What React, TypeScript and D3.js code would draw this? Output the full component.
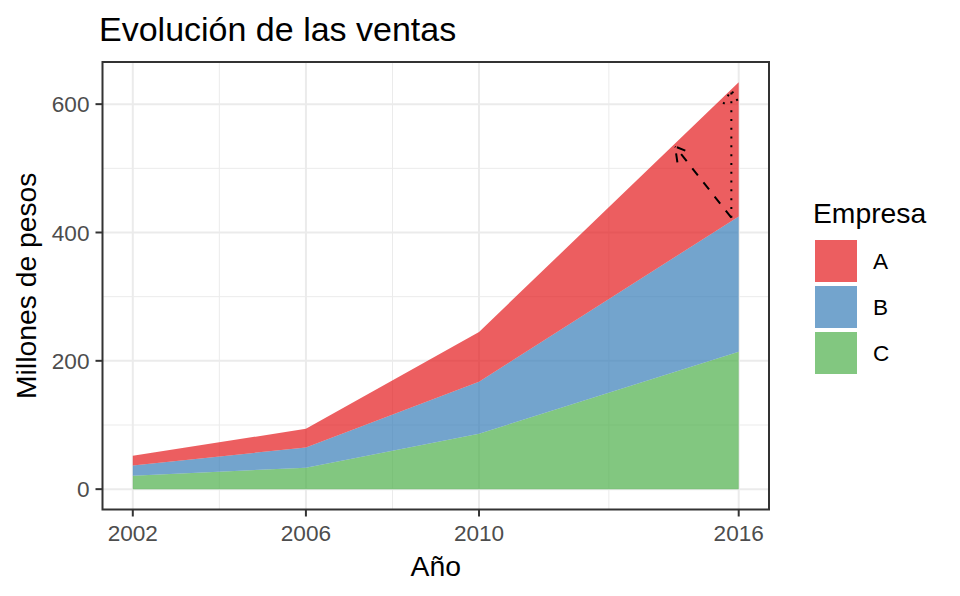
import React from "react";
import * as d3 from "d3";

const years = [2002, 2006, 2010, 2016];
const empresas = ["A", "B", "C"];
const ventasA = [15, 29, 77.5, 209];
const ventasB = [16, 31.5, 81, 211];
const ventasC = [21, 33.5, 86.5, 214];
const colores = ["#E41A1C", "#377EB8", "#4DAF4A"];
const yTicks = [0, 200, 400, 600];
const yMinor = [100, 300, 500];
const xTicks = [2002, 2006, 2010, 2016];
const xMinor = [2004, 2008, 2013];

// annotation segments (data coordinates): [x, y, xend, yend]
const flechaDiscontinua = [2015.83, 423, 2014.53, 534];
const flechaPunteada = [2015.83, 423, 2015.83, 622];

const W = 960;
const H = 596;
const P = { left: 102.5, right: 769, top: 62, bottom: 509.5 };

export default function App() {
  const table = years.map((yr, i) => ({ year: yr, A: ventasA[i], B: ventasB[i], C: ventasC[i] }));
  const stack = d3.stack<any>().keys(["C", "B", "A"]);
  const series = stack(table);

  const xMin = d3.min(years)!, xMax = d3.max(years)!;
  const xPad = (xMax - xMin) * 0.05;
  const x = d3.scaleLinear().domain([xMin - xPad, xMax + xPad]).range([P.left, P.right]);
  const yMaxV = d3.max(series[series.length - 1], (d) => d[1])!;
  const yPad = yMaxV * 0.05;
  const y = d3.scaleLinear().domain([-yPad, yMaxV + yPad]).range([P.bottom, P.top]);

  const area = d3
    .area<any>()
    .x((d) => x(d.data.year))
    .y0((d) => y(d[0]))
    .y1((d) => y(d[1]));

  const colorOf = (k: string) => colores[empresas.indexOf(k)];
  const font = "'Liberation Sans', Arial, sans-serif";

  const arrow = (seg: number[], dash: string, key: string) => {
    const x1 = x(seg[0]), y1 = y(seg[1]), x2 = x(seg[2]), y2 = y(seg[3]);
    const dx = x1 - x2, dy = y1 - y2;
    const len = Math.hypot(dx, dy);
    const ux = dx / len, uy = dy / len;
    const L = 16;
    const a = Math.PI / 6;
    const r1 = [ux * Math.cos(a) - uy * Math.sin(a), ux * Math.sin(a) + uy * Math.cos(a)];
    const r2 = [ux * Math.cos(-a) - uy * Math.sin(-a), ux * Math.sin(-a) + uy * Math.cos(-a)];
    const head = `M${x2 + r1[0] * L},${y2 + r1[1] * L}L${x2},${y2}L${x2 + r2[0] * L},${y2 + r2[1] * L}`;
    return (
      <g key={key} stroke="#000" strokeWidth={2} fill="none" strokeDasharray={dash}>
        <line x1={x1} y1={y1} x2={x2} y2={y2} />
        <path d={head} />
      </g>
    );
  };

  return (
    <div style={{ position: "absolute", left: 0, top: 0 }}>
      <svg width={W} height={H} style={{ display: "block", background: "#fff" }} fontFamily={font}>
        <rect x={0} y={0} width={W} height={H} fill="#fff" />
        {/* grid */}
        <g stroke="#EBEBEB" fill="none">
          {yMinor.map((v) => (
            <line key={"ym" + v} x1={P.left} x2={P.right} y1={y(v)} y2={y(v)} strokeWidth={1} />
          ))}
          {xMinor.map((v) => (
            <line key={"xm" + v} y1={P.top} y2={P.bottom} x1={x(v)} x2={x(v)} strokeWidth={1} />
          ))}
          {yTicks.map((v) => (
            <line key={"y" + v} x1={P.left} x2={P.right} y1={y(v)} y2={y(v)} strokeWidth={2} />
          ))}
          {xTicks.map((v) => (
            <line key={"x" + v} y1={P.top} y2={P.bottom} x1={x(v)} x2={x(v)} strokeWidth={2} />
          ))}
        </g>
        {/* areas */}
        {series.map((s) => (
          <path key={s.key} d={area(s as any)!} fill={colorOf(s.key)} fillOpacity={0.7} />
        ))}
        {/* annotations */}
        {arrow(flechaDiscontinua, "9 9", "dash")}
        {arrow(flechaPunteada, "2 6.8", "dot")}
        {/* panel border */}
        <rect
          x={P.left}
          y={P.top}
          width={P.right - P.left}
          height={P.bottom - P.top}
          fill="none"
          stroke="#333333"
          strokeWidth={2}
        />
        {/* y axis */}
        {yTicks.map((v) => (
          <g key={"yt" + v}>
            <line x1={P.left - 7} x2={P.left} y1={y(v)} y2={y(v)} stroke="#333333" strokeWidth={2} />
            <text x={P.left - 13} y={y(v)} dy="0.36em" textAnchor="end" fontSize={22.6} fill="#4D4D4D">
              {v}
            </text>
          </g>
        ))}
        {/* x axis */}
        {xTicks.map((v) => (
          <g key={"xt" + v}>
            <line x1={x(v)} x2={x(v)} y1={P.bottom} y2={P.bottom + 7} stroke="#333333" strokeWidth={2} />
            <text x={x(v)} y={541} textAnchor="middle" fontSize={22.6} fill="#4D4D4D">
              {v}
            </text>
          </g>
        ))}
        <text x={(P.left + P.right) / 2} y={576} textAnchor="middle" fontSize={28.3} fill="#000">
          Año
        </text>
        <text
          transform={`translate(36,${(P.top + P.bottom) / 2}) rotate(-90)`}
          textAnchor="middle"
          fontSize={28.3}
          fill="#000"
        >
          Millones de pesos
        </text>
        {/* title */}
        <text x={99} y={41} fontSize={34} fill="#000">
          Evolución de las ventas
        </text>
        {/* legend */}
        <text x={813} y={223} fontSize={28.3} fill="#000">
          Empresa
        </text>
        {empresas.map((k, i) => (
          <g key={"lg" + k}>
            <rect x={815} y={240 + i * 46} width={42} height={42} fill={colorOf(k)} fillOpacity={0.7} />
            <text x={873} y={261 + i * 46} dy="0.36em" fontSize={22.6} fill="#000">
              {k}
            </text>
          </g>
        ))}
      </svg>
    </div>
  );
}
